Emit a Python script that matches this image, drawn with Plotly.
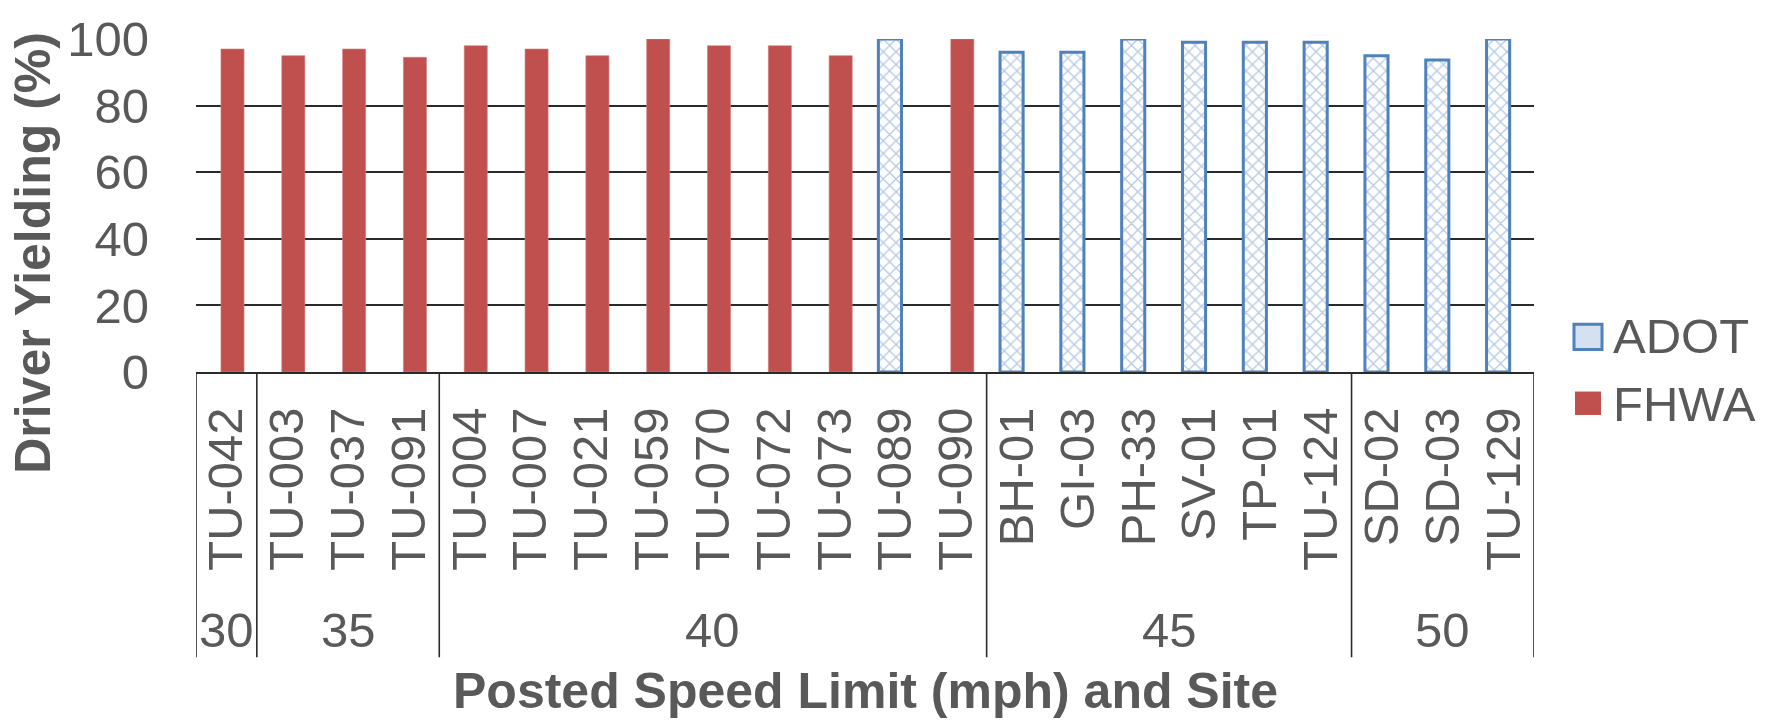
import plotly.graph_objects as go

# Sites, posted speed limit and agency for each crossing
sites = ["TU-042", "TU-003", "TU-037", "TU-091", "TU-004", "TU-007", "TU-021",
         "TU-059", "TU-070", "TU-072", "TU-073", "TU-089", "TU-090", "BH-01",
         "GI-03", "PH-33", "SV-01", "TP-01", "TU-124", "SD-02", "SD-03", "TU-129"]
speed_limits = [30, 35, 35, 35, 40, 40, 40, 40, 40, 40, 40, 40, 40,
                45, 45, 45, 45, 45, 45, 50, 50, 50]
agencies = ["FHWA"] * 11 + ["ADOT", "FHWA"] + ["ADOT"] * 9
yielding = [97, 95, 97, 94.5, 98, 97, 95, 100, 98, 98, 95, 100, 100,
            96, 96, 100, 99, 99, 99, 95, 93.7, 100]
y_ticks = [0, 20, 40, 60, 80, 100]

TEXT = "#595959"
LINE = "#2a2a2a"
RED = "#C0504D"
BLUE = "#4F81BD"
FONT = "Liberation Sans, Arial, sans-serif"

# plot area in pixels
W, H = 1777, 721
ML, MR, MT, MB = 196, 243, 31, 349
PH = H - MT - MB


def py(px):
    """Convert a pixel row to paper y."""
    return (H - MB - px) / PH


def px_x(px):
    return (px - ML) / (W - ML - MR)


fig = go.Figure()

adot_y = [v if a == "ADOT" else None for v, a in zip(yielding, agencies)]
fhwa_y = [v if a == "FHWA" else None for v, a in zip(yielding, agencies)]

fig.add_trace(go.Bar(
    x=sites, y=adot_y, name="ADOT", width=0.38, offset=-0.28,
    marker=dict(color="white", line=dict(color=BLUE, width=3),
                pattern=dict(shape="x", fgcolor="#6F96CB", bgcolor="white",
                             size=9, solidity=0.28, fillmode="overlay")),
    showlegend=False,
))
fig.add_trace(go.Bar(
    x=sites, y=fhwa_y, name="FHWA", width=0.38, offset=-0.09,
    marker=dict(color=RED, line=dict(color="#D77F7D", width=0.6)),
    showlegend=False,
))

shapes = []
annotations = []

# speed-limit group dividers and labels beneath the site labels
groups = []
for i, s in enumerate(speed_limits):
    if groups and groups[-1][0] == s:
        groups[-1][2] = i
    else:
        groups.append([s, i, i])

bounds = sorted({g[1] - 0.5 for g in groups} | {g[2] + 0.5 for g in groups})
for b in bounds:
    shapes.append(dict(type="line", xref="x", yref="paper", x0=b, x1=b,
                       y0=0, y1=py(664), line=dict(color=LINE, width=1.6)))
for s, i0, i1 in groups:
    annotations.append(dict(xref="x", yref="paper", x=(i0 + i1) / 2, y=py(636),
                            text=str(s), showarrow=False, xanchor="center",
                            yanchor="middle",
                            font=dict(family=FONT, size=49, color=TEXT)))

# axis titles
annotations.append(dict(xref="paper", yref="paper", x=0.5, y=py(699),
                        text="<b>Posted Speed Limit (mph) and Site</b>",
                        showarrow=False, xanchor="center", yanchor="middle",
                        font=dict(family=FONT, size=50, color=TEXT)))
annotations.append(dict(xref="paper", yref="paper", x=px_x(33), y=py(250),
                        text="<b>Driver Yielding (%)</b>", textangle=-90,
                        showarrow=False, xanchor="center", yanchor="middle",
                        font=dict(family=FONT, size=50, color=TEXT)))

# legend
shapes.append(dict(type="rect", xref="paper", yref="paper",
                   x0=px_x(1574), x1=px_x(1602), y0=py(349), y1=py(323),
                   fillcolor="#D5E1F0", line=dict(color=BLUE, width=3)))
shapes.append(dict(type="rect", xref="paper", yref="paper",
                   x0=px_x(1575), x1=px_x(1601), y0=py(416), y1=py(392),
                   fillcolor=RED, line=dict(width=0)))
for name, yy in (("ADOT", 335), ("FHWA", 405)):
    annotations.append(dict(xref="paper", yref="paper", x=px_x(1611), y=py(yy),
                            text=name, showarrow=False, xanchor="left",
                            yanchor="middle",
                            font=dict(family=FONT, size=49, color=TEXT)))

fig.update_layout(
    width=W, height=H,
    margin=dict(l=ML, r=MR, t=MT, b=MB, pad=0),
    paper_bgcolor="white", plot_bgcolor="white",
    barmode="overlay",
    font=dict(family=FONT, size=49, color=TEXT),
    shapes=shapes, annotations=annotations,
    showlegend=False,
)
fig.update_xaxes(
    type="category", categoryorder="array", categoryarray=sites,
    range=[-0.5, len(sites) - 0.5],
    tickangle=-90, ticks="", showgrid=False, zeroline=False,
    showline=True, linecolor=LINE, linewidth=1.6,
    ticklabelstandoff=14,
    tickfont=dict(family=FONT, size=49, color=TEXT),
)
fig.update_yaxes(
    range=[0, 100], tickvals=y_ticks, ticks="",
    showgrid=True, gridcolor=LINE, gridwidth=1.6,
    zeroline=False, showline=False,
    ticklabelstandoff=46,
    tickfont=dict(family=FONT, size=49, color=TEXT),
)

fig.write_html("out.html")
